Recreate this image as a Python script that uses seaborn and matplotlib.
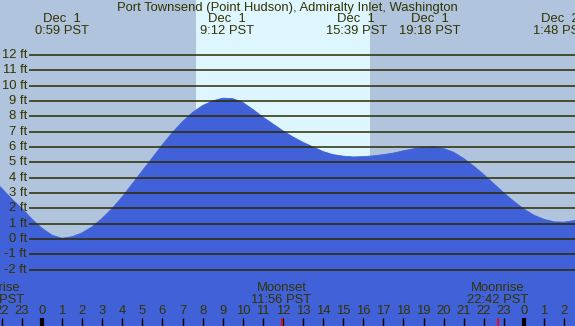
import numpy as np
import pandas as pd
import seaborn as sns
import matplotlib
matplotlib.use("Agg")
import matplotlib.pyplot as plt

# tide height (ft), read every half hour off the chart, hours from Dec 1 00:00
hours = [-2.5, -2.0, -1.5, -1.0, -0.5, 0.0, 0.5, 1.0, 1.5, 2.0, 2.5, 3.0, 3.5, 4.0,
         4.5, 5.0, 5.5, 6.0, 6.5, 7.0, 7.5, 8.0, 8.5, 9.0, 9.5, 10.0, 10.5, 11.0,
         11.5, 12.0, 12.5, 13.0, 13.5, 14.0, 14.5, 15.0, 15.5, 16.0, 16.5, 17.0,
         17.5, 18.0, 18.5, 19.0, 19.5, 20.0, 20.5, 21.0, 21.5, 22.0, 22.5, 23.0,
         23.5, 24.0, 24.5, 25.0, 25.5, 26.0, 26.5, 27.0]
height = [3.95, 3.3, 2.6, 2.0, 1.3, 0.7, 0.25, 0.05, 0.15, 0.4, 0.8, 1.35, 2.0, 2.75,
          3.6, 4.45, 5.3, 6.15, 6.95, 7.65, 8.25, 8.7, 9.0, 9.18, 9.15, 8.9, 8.45, 7.95,
          7.5, 7.05, 6.65, 6.3, 6.0, 5.7, 5.5, 5.4, 5.35, 5.37, 5.42, 5.5,
          5.6, 5.75, 5.88, 5.97, 6.0, 5.9, 5.65, 5.25, 4.75, 4.2, 3.6, 3.0,
          2.45, 1.95, 1.55, 1.28, 1.12, 1.1, 1.2, 1.35]

# high / low tide labels along the top
tide_t = [0.98, 9.2, 15.65, 19.3, 25.8]
tide_lbl = ["Dec  1\n0:59 PST", "Dec  1\n9:12 PST", "Dec  1\n15:39 PST",
            "Dec  1\n19:18 PST", "Dec  2\n1:48 PST"]

# moon events along the bottom
moon_t = [-2.42, 11.93, 22.7]
moon_lbl = ["Moonrise\n21:35 PST", "Moonset\n11:56 PST", "Moonrise\n22:42 PST"]

sunrise, sunset = 7.67, 16.33
levels = list(range(-2, 13))
hour_ticks = list(range(-2, 27))
hour_lbls = [str(h % 24) for h in hour_ticks]

title = "Port Townsend (Point Hudson), Admiralty Inlet, Washington"
txt = "#333300"
fill = "#4161d8"
fs = 9.4

sns.set_style("white")
plt.rcParams['font.family'] = ['Liberation Sans', 'DejaVu Sans']

df = pd.DataFrame({"hour": hours, "ft": height})

fig = plt.figure(figsize=(5.75, 3.26), dpi=100)
ax = fig.add_axes([0, 0, 1, 1])
x0, x1 = -2.09, 26.54
y0, y1 = -5.67, 15.58
ax.set_xlim(x0, x1)
ax.set_ylim(y0, y1)
ax.set_facecolor("#b0c4de")
ax.axvspan(sunrise, sunset, color="#ddf6ff", lw=0)

ax.fill_between(df.hour, df.ft, y0, color=fill, lw=0, zorder=2)
sns.lineplot(data=df, x="hour", y="ft", color=fill, lw=0.6, ax=ax, zorder=2)

px = (x1 - x0) / 575.0
ax.hlines(levels, x0 + 29 * px, x1, color="#2b2b00", lw=1.1, zorder=3)
for lv in levels:
    ax.text(x0 + 27 * px, lv, f"{lv} ft", ha="right", va="center", fontsize=fs,
            color=txt, zorder=4)

ax.text(0.5, 1 - 7.5 / 326, title, transform=ax.transAxes, ha="center",
        va="center", fontsize=fs, color=txt)
for t, s in zip(tide_t, tide_lbl):
    ax.text(t, 1 - 25 / 326, s, transform=ax.get_xaxis_transform(), ha="center",
            va="center", fontsize=fs, color=txt, linespacing=0.95)

for t, s in zip(moon_t, moon_lbl):
    ax.text(t, 32 / 326, s, transform=ax.get_xaxis_transform(), ha="center",
            va="center", fontsize=fs, color=txt, linespacing=0.95, zorder=4)
    ax.vlines(t, 0, 8 / 326, transform=ax.get_xaxis_transform(), color="red",
              lw=1.2, zorder=5)

for h, s in zip(hour_ticks, hour_lbls):
    ax.text(h, 14.5 / 326, s, transform=ax.get_xaxis_transform(), ha="center",
            va="center", fontsize=fs, color=txt, zorder=4)
    thick = h % 24 == 0
    ax.vlines(h, 0, 8 / 326, transform=ax.get_xaxis_transform(),
              color="black", lw=3 if thick else 1, zorder=4)

ax.set_xticks([])
ax.set_yticks([])
ax.set_xlabel("")
ax.set_ylabel("")
for sp in ax.spines.values():
    sp.set_visible(False)

fig.savefig("out.png", dpi=100)
